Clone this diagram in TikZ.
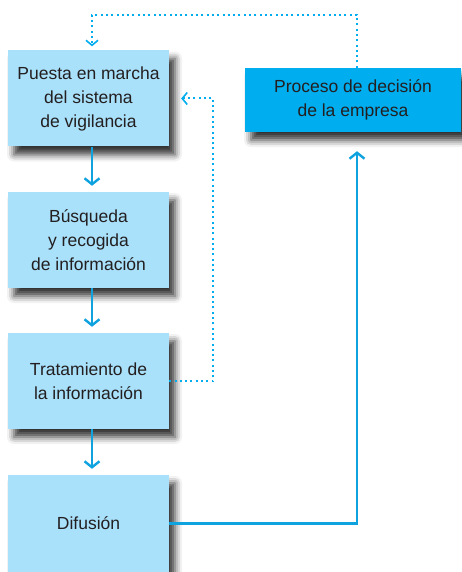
\documentclass[tikz,border=0pt]{standalone}
\usepackage{fontspec}
\setmainfont{Liberation Sans}
\usetikzlibrary{arrows.meta,shadows.blur}

\definecolor{cyanbox}{HTML}{00ADEF}
\definecolor{lightbox}{HTML}{A9E0FA}
\definecolor{flowblue}{HTML}{0EA2DE}
\definecolor{textgray}{HTML}{231F20}

\tikzset{
  boxshadow/.style={blur shadow={shadow xshift=6pt,shadow yshift=-8pt,
      shadow blur radius=7pt,shadow opacity=80}},
  stagebox/.style={fill=lightbox,text=textgray,inner sep=0pt,align=center,
      minimum width=161pt,minimum height=96pt,boxshadow,
      font=\fontsize{17.5}{24}\selectfont},
  decisionbox/.style={stagebox,fill=cyanbox,minimum width=216pt,minimum height=64pt},
  flow/.style={draw=flowblue,line width=2.4pt,-{Straight Barb[length=6pt,width=15pt,line width=2.4pt]}},
  feedback/.style={draw=cyanbox,line width=2pt,line cap=butt,dash pattern=on 2pt off 3.3pt,
      -{Straight Barb[length=5pt,width=12pt,line width=1.6pt]}}
}

\begin{document}
\begin{tikzpicture}[x=1pt,y=-1pt]
        \useasboundingbox (0,0) rectangle (461,572);

        % the four stages on the left
        \node[stagebox] (arranque) at (88.5,98.5) {Puesta en marcha\\del sistema\\de vigilancia};
        \node[stagebox] (busqueda) at (88.5,240) {Búsqueda\\y recogida\\de información};
        \node[stagebox] (tratamiento) at (88.5,381) {Tratamiento de\\la información};
        \node[stagebox,minimum height=97pt] (difusion) at (88.5,523.5) {Difusión};

        % the decision box on the right
        \node[decisionbox] (decision) at (353,100) {Proceso de decisión\\de la empresa};

        % arrows down between the stages
        \foreach \a/\b in {arranque/busqueda,busqueda/tratamiento,tratamiento/difusion}
                \draw[flow,shorten >=6pt] ([xshift=3.5pt]\a.south) -- ([xshift=3.5pt]\b.north);

        % from the last stage up to the decision
        \draw[flow,shorten >=19pt] (difusion.east) -| ([xshift=4pt]decision.south);

        % dotted feedback lines
        \draw[feedback,shorten >=4pt] ([xshift=4pt]decision.north) -- ++(0,-53) -| ([xshift=3.5pt]arranque.north);
        \draw[feedback,shorten >=12pt] (tratamiento.east) -- ++(44,0) |- (arranque.east);
\end{tikzpicture}
\end{document}
